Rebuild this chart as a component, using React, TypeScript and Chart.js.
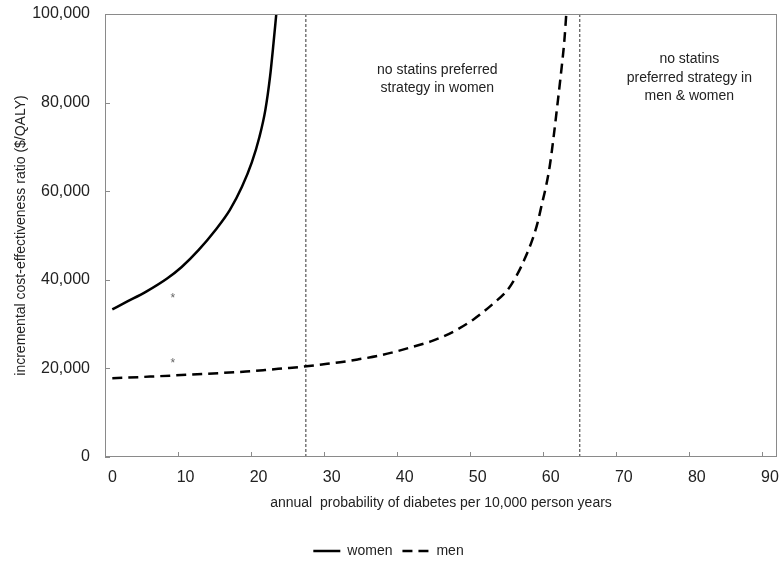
import React, { useEffect, useRef } from "react";
import { Chart, registerables } from "chart.js";

Chart.register(...registerables);

// ---- data ----
const womenX = [1.0, 3.0, 5.7, 8.5, 10.5, 12.8, 15.1, 17.1, 18.75, 20.1, 21.15, 21.95, 22.6, 23.07, 23.45];
const womenY = [33340, 35050, 37400, 40300, 42900, 46700, 51200, 55800, 61000, 66500, 72300, 78300, 85900, 93400, 100000];

const menX = [1, 6.2, 11.2, 15.8, 19.3, 21.9, 24.4, 27, 29.7, 32.2, 34.7, 37.3, 39.7, 42.2, 44.8, 47.7, 50.4, 53.2, 55.1, 56.4, 57.4, 58.5, 59.2, 59.8, 60.4, 60.9, 61.4, 61.9, 62.4, 62.9, 63.15];
const menY = [17760, 18150, 18550, 18950, 19300, 19640, 20000, 20380, 20900, 21400, 22050, 22800, 23750, 24900, 26200, 28300, 31000, 34700, 37700, 41100, 44500, 49000, 52750, 57000, 61300, 65800, 72000, 79000, 86200, 94200, 100000];

const thresholdX = [27.5, 65];

const xTicks = [0, 10, 20, 30, 40, 50, 60, 70, 80, 90];
const yTicks = [0, 20000, 40000, 60000, 80000, 100000];

const noteX = [45.5, 80];
const noteY = [87400, 89800];
const noteLines = [
  ["no statins preferred", "strategy in women"],
  ["no statins", "preferred strategy in", "men & women"],
];

const starX = [9.3, 9.3];
const starY = [36600, 21900];

const FONT = "'Liberation Sans', Arial, sans-serif";
const TEXT = "#222";
const AXIS = "#8a8a8a";

const overlay = {
  id: "overlay",
  afterLayout(chart: any) {
    if (chart.legend) {
      chart.legend.top += 4;
      chart.legend.bottom += 4;
    }
  },
  afterDatasetsDraw(chart: any) {
    const { ctx, chartArea: a, scales } = chart;
    const x = scales.x;
    const y = scales.y;
    ctx.save();
    ctx.strokeStyle = AXIS;
    ctx.lineWidth = 1;
    ctx.setLineDash([]);
    ctx.strokeRect(a.left + 0.5, a.top + 0.5, a.right - a.left - 1, a.bottom - a.top - 1);
    // inside tick marks
    xTicks.forEach((v) => {
      const px = Math.round(x.getPixelForValue(v)) + 0.5;
      ctx.beginPath();
      ctx.moveTo(px, a.bottom);
      ctx.lineTo(px, a.bottom - 5);
      ctx.stroke();
    });
    yTicks.forEach((v) => {
      const py = Math.round(y.getPixelForValue(v)) + 0.5;
      ctx.beginPath();
      ctx.moveTo(a.left, py);
      ctx.lineTo(a.left + 5, py);
      ctx.stroke();
    });
    // region notes
    ctx.fillStyle = TEXT;
    ctx.font = `14px ${FONT}`;
    ctx.textAlign = "center";
    ctx.textBaseline = "middle";
    noteLines.forEach((lines, i) => {
      const px = x.getPixelForValue(noteX[i]);
      const py = y.getPixelForValue(noteY[i]);
      lines.forEach((t, j) => ctx.fillText(t, px, py + j * 18.5));
    });
    // asterisks
    ctx.fillStyle = "#666";
    ctx.font = `12px ${FONT}`;
    ctx.textBaseline = "alphabetic";
    starX.forEach((sx, i) => {
      const px = x.getPixelForValue(sx);
      const py = y.getPixelForValue(starY[i]);
      ctx.fillText("*", px, py + 7);
    });
    ctx.restore();
  },
};

export default function App() {
  const ref = useRef<HTMLCanvasElement>(null);
  useEffect(() => {
    document.body.style.margin = "0";
    const canvas = ref.current!;
    const chart = new Chart(canvas, {
      type: "line",
      data: {
        datasets: [
          {
            label: "women",
            data: womenX.map((x, i) => ({ x, y: womenY[i] })),
            borderColor: "#000",
            backgroundColor: "#000",
            borderWidth: 2.5,
            pointRadius: 0,
            cubicInterpolationMode: "monotone",
            fill: false,
          },
          {
            label: "men",
            data: menX.map((x, i) => ({ x, y: menY[i] })),
            borderColor: "#000",
            backgroundColor: "#000",
            borderWidth: 2.5,
            borderDash: [10, 6],
            pointRadius: 0,
            cubicInterpolationMode: "monotone",
            fill: false,
          },
          ...thresholdX.map((t) => ({
            label: "_threshold",
            data: [
              { x: t, y: yTicks[0] },
              { x: t, y: yTicks[yTicks.length - 1] },
            ],
            borderColor: "#333",
            borderWidth: 1,
            borderDash: [3, 2],
            pointRadius: 0,
            fill: false,
          })),
        ],
      },
      options: {
        animation: false,
        responsive: false,
        maintainAspectRatio: false,
        layout: { padding: { top: 14, right: 4, left: 0, bottom: 0 } },
        plugins: {
          tooltip: { enabled: false },
          legend: {
            position: "bottom",
            labels: {
              generateLabels: (chart: any) => {
                const items = Chart.defaults.plugins.legend.labels.generateLabels(chart);
                return items.map((it: any) => {
                  const ds: any = chart.data.datasets[it.datasetIndex];
                  return { ...it, lineDash: ds.borderDash || [], lineWidth: 2.5, strokeStyle: "#000" };
                });
              },
              filter: (item: any) => !item.text.startsWith("_"),
              usePointStyle: true,
              pointStyle: "line",
              pointStyleWidth: 27,
              boxWidth: 27,
              color: TEXT,
              font: { family: FONT, size: 14, lineHeight: 1 },
              padding: 10,
            },
          },
        },
        scales: {
          x: {
            type: "linear",
            min: 0,
            max: 92,
            afterBuildTicks: (s: any) => {
              s.ticks = xTicks.map((v) => ({ value: v }));
            },
            afterFit: (s: any) => {
              const lh = s.chart.legend ? s.chart.legend.height : 0;
              s.height = 564 - 457 - lh;
              s.paddingLeft = 0;
              s.paddingRight = 0;
            },
            grid: { display: false, drawTicks: false, tickLength: 0 },
            border: { display: false },
            ticks: {
              color: TEXT,
              font: { family: FONT, size: 16 },
              padding: 11,
              labelOffset: 7.5,
              maxRotation: 0,
              autoSkip: false,
            },
            title: {
              display: true,
              text: "annual  probability of diabetes per 10,000 person years",
              color: TEXT,
              font: { family: FONT, size: 14 },
              padding: { top: 0, bottom: 18 },
            },
          },
          y: {
            type: "linear",
            min: 0,
            max: 100000,
            afterBuildTicks: (s: any) => {
              s.ticks = yTicks.map((v) => ({ value: v }));
            },
            afterFit: (s: any) => {
              s.width = 105;
              s.paddingTop = 0;
              s.paddingBottom = 0;
            },
            grid: { display: false, drawTicks: false, tickLength: 0 },
            border: { display: false },
            ticks: {
              color: TEXT,
              font: { family: FONT, size: 16 },
              padding: 15,
              callback: (v: any) => Number(v).toLocaleString("en-US"),
            },
            title: {
              display: true,
              text: "incremental cost-effectiveness ratio ($/QALY)",
              color: TEXT,
              font: { family: FONT, size: 14 },
              padding: { top: 13, bottom: 0 },
            },
          },
        },
      },
      plugins: [overlay],
    } as any);
    return () => chart.destroy();
  }, []);
  return (
    <div style={{ width: 781, height: 564 }}>
      <canvas ref={ref} width={781} height={564} style={{ display: "block" }} />
    </div>
  );
}
